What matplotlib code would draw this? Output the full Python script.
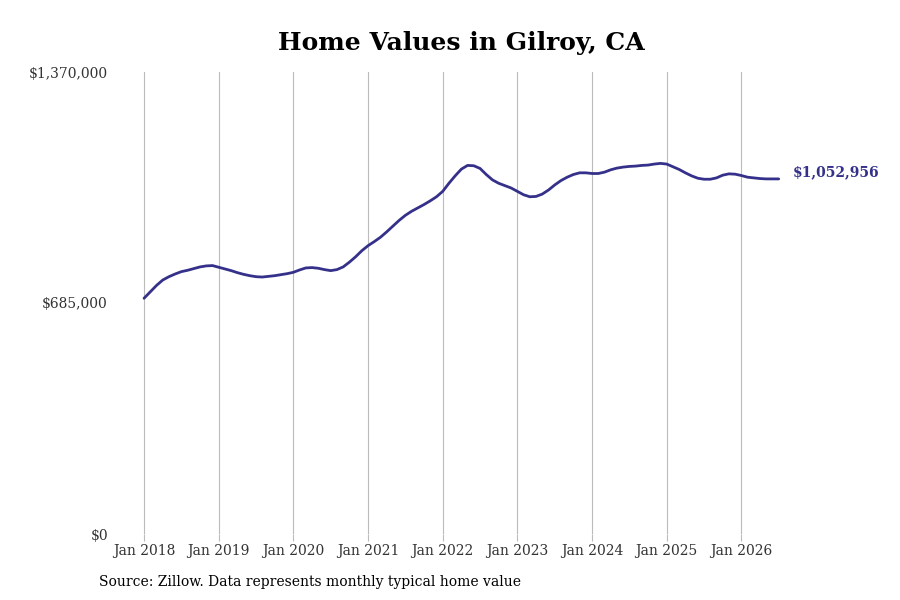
import matplotlib
matplotlib.use("Agg")
import matplotlib.pyplot as plt

# monthly typical home value, Jan 2018 onward
values = [
    699000, 718000, 737000, 753000, 763000, 771000, 778000, 782000, 787000, 792000, 795000, 796000,
    791000, 786000, 781000, 775000, 770000, 766000, 763000, 762000, 764000, 766000, 769000, 772000,
    776000, 783000, 789000, 790000, 788000, 784000, 781000, 784000, 792000, 806000, 822000, 840000,
    855000, 867000, 880000, 896000, 913000, 930000, 945000, 957000, 967000, 977000, 988000, 1000000,
    1016000, 1040000, 1062000, 1082000, 1093000, 1092000, 1084000, 1066000, 1050000, 1040000, 1033000, 1026000,
    1016000, 1006000, 1000000, 1001000, 1008000, 1020000, 1035000, 1048000, 1058000, 1066000, 1071000, 1071000,
    1069000, 1069000, 1073000, 1080000, 1085000, 1088000, 1090000, 1091000, 1093000, 1094000, 1097000, 1099000,
    1097000, 1089000, 1081000, 1071000, 1062000, 1055000, 1052000, 1052000, 1056000, 1064000, 1068000, 1067000,
    1063000, 1058000, 1056000, 1054000, 1053000, 1053000, 1052956,
]
months = list(range(len(values)))
tick_months = [0, 12, 24, 36, 48, 60, 72, 84, 96]
tick_labels = ["Jan %d" % (2018 + i) for i in range(len(tick_months))]
y_ticks = [0, 685000, 1370000]
y_labels = ["$0", "$685,000", "$1,370,000"]
last_label = "$1,052,956"

line_color = "#35318a"
plt.rcParams["font.family"] = ["DejaVu Serif"]

fig = plt.figure(figsize=(9, 6), dpi=100)
ax = fig.add_axes([0.1462, 0.11, 0.7467, 0.77])

ax.plot(months, values, color=line_color, linewidth=2.0, solid_capstyle="round")

ax.set_xlim(-2, 106)
ax.set_ylim(0, 1370000)
ax.set_xticks(tick_months)
ax.set_xticklabels(tick_labels, fontsize=10, color="#333333")
ax.set_yticks(y_ticks)
ax.set_yticklabels(y_labels, fontsize=10, color="#333333")
ax.grid(axis="x", color="#bbbbbb", linewidth=0.8)
ax.tick_params(axis="x", length=5, color="#bbbbbb", pad=2)
ax.tick_params(axis="y", length=0, pad=17)
for s in ax.spines.values():
    s.set_visible(False)

# value label sits a little above the line end
ax.annotate(last_label, (months[-1], values[-1]), xytext=(10, 4.5),
            textcoords="offset points", color=line_color,
            fontsize=10, fontweight="bold", va="center", ha="left")

fig.text(461 / 900, 1 - 43 / 600, "Home Values in Gilroy, CA", fontsize=18,
         fontweight="bold", ha="center", va="center")
fig.text(99 / 900, 1 - 582 / 600, "Source: Zillow. Data represents monthly typical home value",
         fontsize=10, ha="left", va="center")

fig.savefig("out.png", dpi=100)
